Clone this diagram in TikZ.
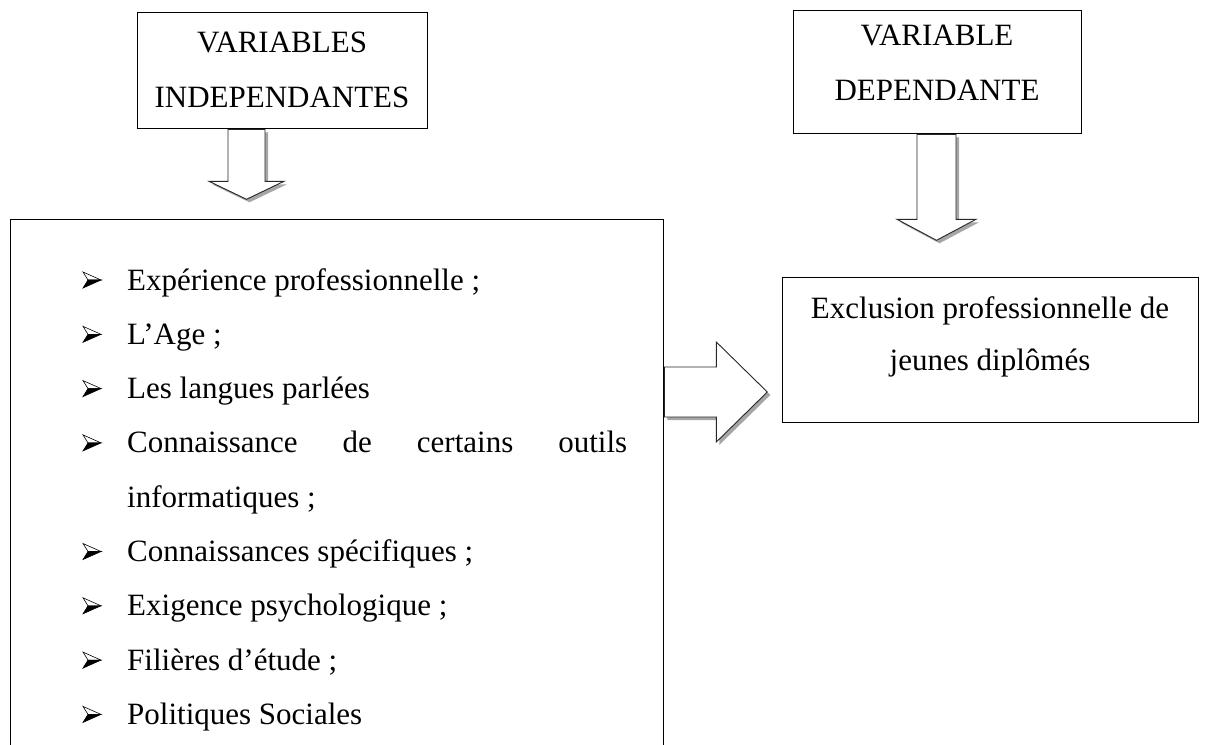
\documentclass[tikz,border=0pt]{standalone}
\usepackage{fontspec}
\setmainfont{Liberation Serif}
\usetikzlibrary{calc}
\begin{document}
\begin{tikzpicture}[x=1pt,y=-1pt,
  box/.style={draw=black,line width=1.3pt,fill=white,inner sep=0pt},
  blockarrow/.style={draw=black!85,line width=0.9pt,fill=white,line join=miter},
  arrowshadow/.style={fill=black!35,draw=none},
  txt/.style={font=\fontsize{31}{37}\selectfont,inner sep=0pt,anchor=base},
  item/.style={font=\fontsize{31}{37}\selectfont,inner sep=0pt,anchor=base west},
  pics/downarrow/.style n args={4}{code={
    \fill[arrowshadow] (-#1/2+3,3) -- (-#1/2+3,#2+3) -- (-#3/2+3,#2+3) -- (3,#2+#4+3) -- (#3/2+3,#2+3) -- (#1/2+3,#2+3) -- (#1/2+3,3) -- cycle;
    \draw[blockarrow] (-#1/2,0) -- (-#1/2,#2) -- (-#3/2,#2) -- (0,#2+#4) -- (#3/2,#2) -- (#1/2,#2) -- (#1/2,0) -- cycle;
  }},
  pics/rightarrow/.style n args={4}{code={
    \fill[arrowshadow] (3,-#1/2+3) -- (#2+3,-#1/2+3) -- (#2+3,-#3/2+3) -- (#2+#4+3,3) -- (#2+3,#3/2+3) -- (#2+3,#1/2+3) -- (3,#1/2+3) -- cycle;
    \draw[blockarrow] (0,-#1/2) -- (#2,-#1/2) -- (#2,-#3/2) -- (#2+#4,0) -- (#2,#3/2) -- (#2,#1/2) -- (0,#1/2) -- cycle;
  }},
  pics/bul/.style={code={
    \filldraw[fill=white,draw=black,line width=0.6pt,line join=miter] (0,-8) -- (18,0) -- (5,0) -- cycle;
    \filldraw[fill=black,draw=black,line width=0.6pt,line join=miter] (5,0) -- (18,0) -- (0,8) -- cycle;
  }}
]
\useasboundingbox (0,0) rectangle (1209,744);
\clip (0,0) rectangle (1209,744);

% title boxes
\node[box,anchor=north west,minimum width=290,minimum height=116] (vi) at (137,12) {};
\node[txt] (vi1) at (282,52) {VARIABLES};
\node[txt] (vi2) at (282,107) {INDEPENDANTES};

\node[box,anchor=north west,minimum width=288,minimum height=123] (vd) at (793,10) {};
\node[txt] (vd1) at (937,45) {VARIABLE};
\node[txt] (vd2) at (937,100) {DEPENDANTE};

% big list box (bottom runs off the page)
\node[box,anchor=north west,minimum width=653,minimum height=600] (big) at (10,219) {};

% result box
\node[box,anchor=north west,minimum width=416,minimum height=145] (exc) at (782,277) {};
\node[txt] (exc1) at (990,318) {Exclusion professionnelle de};
\node[txt] (exc2) at (990,370) {jeunes diplômés};

% block arrows
\pic at ($(vi.south west)+(109.5,0)$) {downarrow={37}{52}{75}{18}};
\pic at ($(vd.south west)+(143.5,0)$) {downarrow={39}{85}{79}{21}};
\pic at ($(big.north east)+(0,173)$) {rightarrow={50}{52}{100}{51}};

% list items
\foreach \y in {290,344.3,398.6,452.9,561.5,615.8,670.1,724.4} {
  \pic at (83,\y-10) {bul};
}
\node[item] (i1) at (127,290) {Expérience professionnelle ;};
\node[item] (i2) at (127,344.3) {L’Age ;};
\node[item] (i3) at (127,398.6) {Les langues parlées};
\node[item] (i4) at (127,452.9) {\makebox[500pt][s]{Connaissance\hfill de\hfill certains\hfill outils}};
\node[item] (i4b) at (127,507.2) {informatiques ;};
\node[item] (i5) at (127,561.5) {Connaissances spécifiques ;};
\node[item] (i6) at (127,615.8) {Exigence psychologique ;};
\node[item] (i7) at (127,670.1) {Filières d’étude ;};
\node[item] (i8) at (127,724.4) {Politiques Sociales};
\end{tikzpicture}
\end{document}
